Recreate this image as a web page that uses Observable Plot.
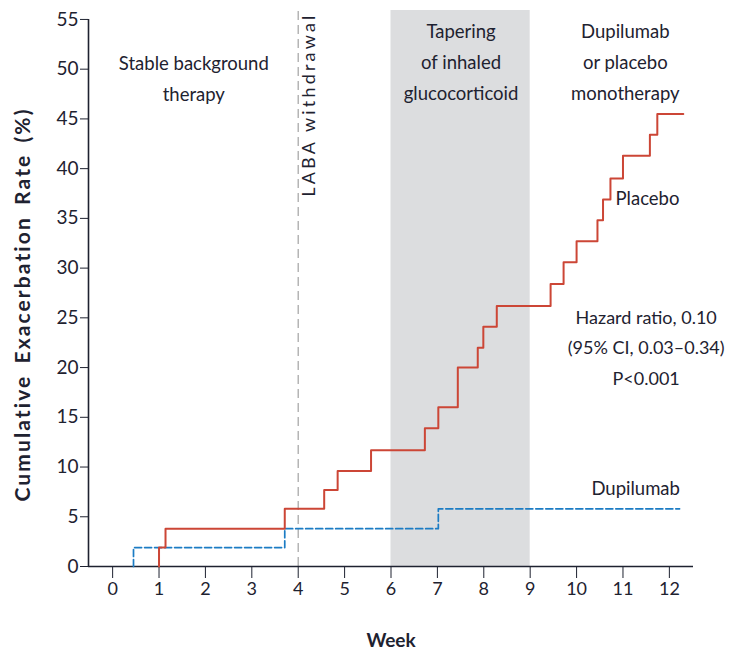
<!DOCTYPE html>
<html>
<head>
<meta charset="utf-8">
<script src="https://cdn.jsdelivr.net/npm/d3@7"></script>
<script src="https://cdn.jsdelivr.net/npm/@observablehq/plot@0.6"></script>
<style>
  html, body { margin: 0; padding: 0; background: #fff; }
  #chart svg { display: block; }
</style>
</head>
<body>
<div id="chart"></div>
<script>
// Kaplan–Meier cumulative exacerbation rate (%) by week, step after each event
const placeboWeeks = [1.00, 1.00, 1.14, 3.71, 4.56, 4.85, 5.57, 6.73, 7.02, 7.44, 7.87, 7.99, 8.28, 9.44, 9.72, 10.00, 10.45, 10.57, 10.73, 11.00, 11.58, 11.74, 12.30];
const placeboRates = [0, 1.9, 3.8, 5.8, 7.7, 9.6, 11.7, 13.9, 16.0, 20.0, 22.0, 24.1, 26.2, 28.4, 30.6, 32.7, 34.8, 36.9, 39.0, 41.3, 43.4, 45.5, 45.5];

const dupilumabWeeks = [0.45, 0.45, 3.71, 7.02, 12.22];
const dupilumabRates = [0, 1.9, 3.8, 5.8, 5.8];

// Study phases
const labaWithdrawalWeek = [4];
const taperingWeeks = [6, 9];
const phaseLabels = ["Stable background\ntherapy", "Tapering\nof inhaled\nglucocorticoid", "Dupilumab\nor placebo\nmonotherapy"];

// Axis ticks
const weekTicks = [0, 1, 2, 3, 4, 5, 6, 7, 8, 9, 10, 11, 12];
const rateTicks = [0, 5, 10, 15, 20, 25, 30, 35, 40, 45, 50, 55];

const seriesLabels = ["Placebo", "Dupilumab"];
const statsText = "Hazard ratio, 0.10\n(95% CI, 0.03\u20130.34)\nP<0.001";

const placebo = placeboWeeks.map((w, i) => ({week: w, rate: placeboRates[i]}));
const dupilumab = dupilumabWeeks.map((w, i) => ({week: w, rate: dupilumabRates[i]}));

const FONT = "Lato, 'Open Sans', sans-serif";
const ink = "#1e2230";
const yTop = 55.9;

const chart = Plot.plot({
  width: 735,
  height: 657,
  marginLeft: 88,
  marginRight: 42,
  marginTop: 10,
  marginBottom: 91,
  style: {fontFamily: FONT, fontSize: "18px", color: ink, background: "#fff"},
  x: {domain: [-0.52, 12.52]},
  y: {domain: [0, yTop]},
  marks: [
    // glucocorticoid tapering window
    Plot.rect([taperingWeeks], {x1: d => d[0], x2: d => d[1], y1: 0, y2: yTop, fill: "#dcdddf"}),
    // LABA withdrawal marker
    Plot.ruleX(labaWithdrawalWeek, {y1: 0, y2: yTop, stroke: "#a9a9a9", strokeWidth: 1.3, strokeDasharray: "9,5"}),
    Plot.text(labaWithdrawalWeek, {x: d => d, y: yTop, text: () => "LABA withdrawal", rotate: -90, textAnchor: "end", dx: 11, dy: 2, fontSize: 18, fill: ink}),
    // axes
    Plot.axisX({ticks: weekTicks, tickSize: 12, tickPadding: 4, fontSize: 18, label: null, stroke: ink, color: ink}),
    Plot.axisY({ticks: rateTicks, tickSize: 8, tickPadding: 2, fontSize: 19, label: null, stroke: ink, color: ink}),
    Plot.ruleY([0], {x1: -0.52, x2: 12.52, stroke: ink, strokeWidth: 1.6}),
    Plot.ruleX([-0.52], {y1: 0, y2: 55, stroke: ink, strokeWidth: 1.6}),
    // survival curves
    Plot.line(dupilumab, {x: "week", y: "rate", curve: "step-after", stroke: "#1c7cc4", strokeWidth: 1.7, strokeDasharray: "7,3"}),
    Plot.line(placebo, {x: "week", y: "rate", curve: "step-after", stroke: "#cc4636", strokeWidth: 2}),
    // phase headings
    Plot.text(phaseLabels, {x: [1.75, 7.51, 11.05], y: [49.4, 51.0, 51.0], text: d => d, lineHeight: 1.68, fontSize: 18.5, fill: ink}),
    // series labels
    Plot.text(seriesLabels, {x: [10.84, 10.32], y: [36.9, 7.75], text: d => d, textAnchor: "start", fontSize: 18.5, fill: ink}),
    Plot.text([statsText], {x: 11.5, y: 22.3, text: d => d, lineHeight: 1.7, fontSize: 18, fill: ink}),
    // axis titles
    Plot.text(["Cumulative Exacerbation Rate (%)"], {frameAnchor: "left", text: d => d, rotate: -90, textAnchor: "middle", dx: -65, dy: 16, fontSize: 21, fontWeight: "bold", fill: ink}),
    Plot.text(["Week"], {frameAnchor: "bottom", text: d => d, dy: 80, fontSize: 19, fontWeight: "bold", fill: ink})
  ]
});

// spaced lettering on the rotated labels
d3.select(chart).selectAll("text").each(function() {
  const t = this.textContent;
  if (t === "LABA withdrawal") this.setAttribute("letter-spacing", "3.2px");
  if (t === "Cumulative Exacerbation Rate (%)") {
    this.setAttribute("letter-spacing", "2.1px");
    this.setAttribute("word-spacing", "4px");
  }
});

document.getElementById("chart").appendChild(chart);
</script>
</body>
</html>
